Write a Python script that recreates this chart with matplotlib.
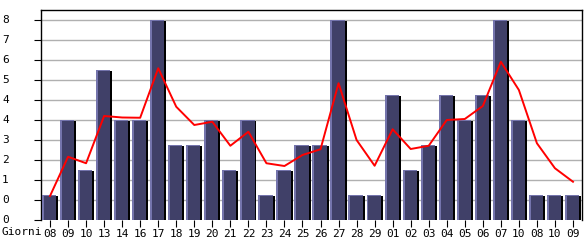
import numpy as np
import matplotlib.pyplot as plt
import matplotlib.transforms as mtrans

# days on the x axis and daily counts
giorni = ["08", "09", "10", "13", "14", "16", "17", "18", "19", "20",
          "21", "22", "23", "24", "25", "26", "27", "28", "29", "01",
          "02", "03", "04", "05", "06", "07", "10", "08", "10", "09"]
conteggi = [1, 4, 2, 6, 4, 4, 8, 3, 3, 4,
            2, 4, 1, 2, 3, 3, 8, 1, 1, 5,
            2, 3, 5, 4, 5, 8, 4, 1, 1, 1]
# red trend line
media = [0.96, 2.53, 2.27, 4.16, 4.1, 4.09, 6.07, 4.53, 3.8, 3.93,
         2.97, 3.53, 2.27, 2.16, 2.6, 2.83, 5.47, 3.2, 2.17, 3.63,
         2.84, 2.97, 4.0, 4.04, 4.56, 6.33, 5.2, 3.07, 2.07, 1.53]
# y ticks every 0.8, labels truncated to integer
yticks = [0.8 * k for k in range(11)]
ylabels = ["0", "0", "1", "2", "3", "4", "4", "5", "6", "7", "8"]

W, H = 585, 240
FS = 8
fig = plt.figure(figsize=(W / 100, H / 100), dpi=100)
ax = fig.add_axes([41 / W, 20 / H, (582 - 41) / W, 210 / H])

x = np.arange(len(conteggi))
v = np.array(conteggi, dtype=float)

# fake 3d bars: black shadow, light edge, dark face
ax.bar(x, v - 0.04, width=0.9, color="black", zorder=2)
ax.bar(x - 0.055, v, width=0.79, color="#7474ac", zorder=3)
ax.bar(x + 0.0, v - 0.05, width=0.68, color="#404068", zorder=4)

ax.plot(x, media, color="#ff0000", lw=1.4, zorder=5)

ax.set_xlim(-0.5, len(conteggi) - 0.5)
ax.set_ylim(0, 8.4)

ax.set_yticks(yticks)
ax.set_yticklabels([])
ax.tick_params(axis="y", length=5, width=0.8)
trans = mtrans.blended_transform_factory(fig.transFigure, ax.transData)
for yv, lab in zip(yticks, ylabels):
    ax.text(2 / W, yv, lab, transform=trans, fontsize=FS,
            family="DejaVu Sans Mono", ha="left", va="center", clip_on=False)

ax.set_xticks(x)
ax.set_xticklabels(giorni)
ax.tick_params(axis="x", length=5, width=0.8, pad=1.5, labelsize=FS)
for t in ax.get_xticklabels():
    t.set_fontfamily("DejaVu Sans Mono")

for yv in yticks[1:]:
    ax.axhline(yv, color="#b0b0b0", lw=1, zorder=1)

ax.spines["bottom"].set_visible(False)
for s in ["top", "right", "left"]:
    ax.spines[s].set_linewidth(1)
    ax.spines[s].set_color("black")

fig.text(1 / W, 1 - 232 / H, "Giorni", fontsize=FS, family="DejaVu Sans Mono",
         va="center", ha="left")

fig.savefig("out.png", dpi=100)
